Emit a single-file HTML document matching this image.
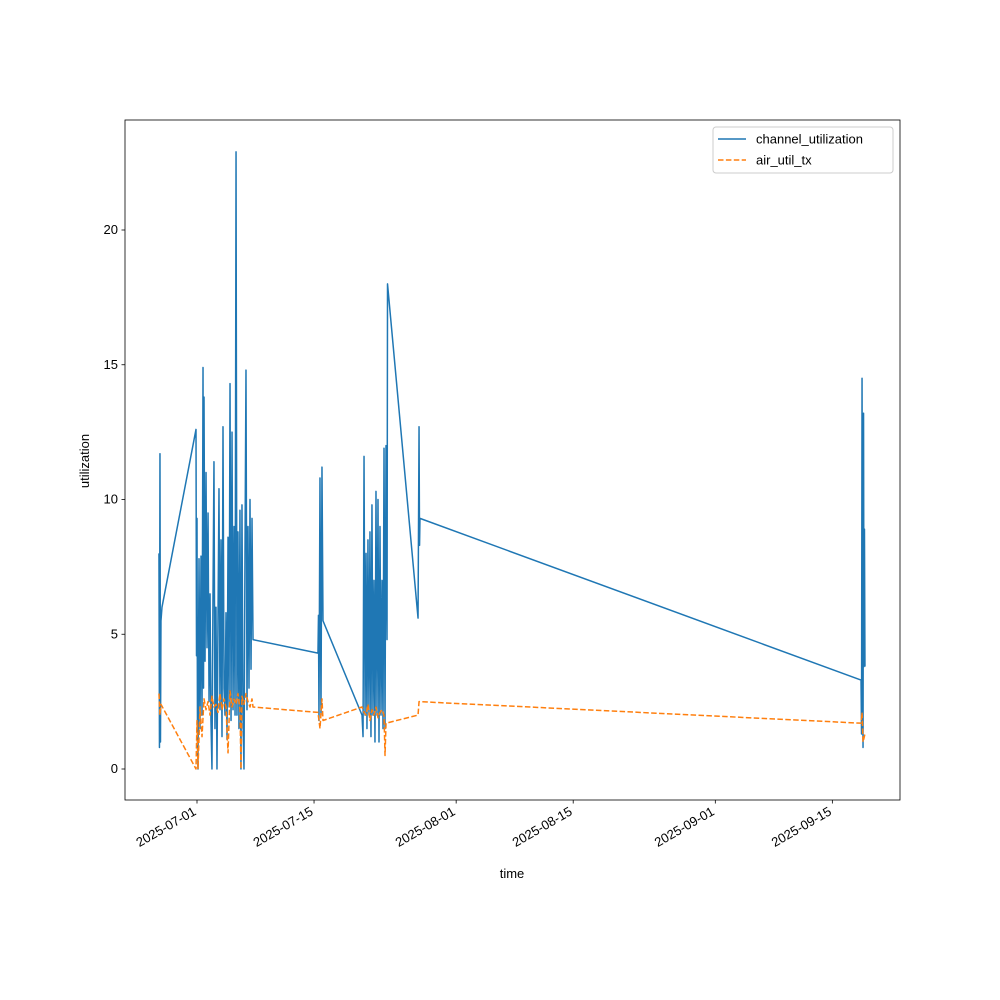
<!DOCTYPE html>
<html><head><meta charset="utf-8"><style>
html,body{margin:0;padding:0;background:#fff;}
svg{display:block;font-family:"Liberation Sans","DejaVu Sans",sans-serif;}
</style></head><body>
<svg id="chart" width="1000" height="1000" viewBox="0 0 1000 1000">
<rect x="0" y="0" width="1000" height="1000" fill="#fff"/>
<g id="plot"></g>
<g id="axes"></g>
</svg>
<script>
const cuDays=[-4.55,-4.49,-4.43,-4.37,-4.31,-4.19,-0.12,-0.06,0,0.06,0.12,0.24,0.36,0.48,0.6,0.72,0.78,0.84,0.96,1.08,1.2,1.32,1.44,1.56,1.67,1.79,1.91,2.03,2.15,2.27,2.39,2.51,2.63,2.75,2.87,2.99,3.11,3.23,3.35,3.47,3.59,3.71,3.83,3.95,4.07,4.19,4.31,4.43,4.55,4.67,4.78,4.9,5.02,5.14,5.26,5.38,5.5,5.62,5.74,5.86,5.98,6.1,6.22,6.34,6.46,6.58,6.7,14.47,14.53,14.59,14.71,14.83,14.95,15.07,19.74,19.86,19.98,20.1,20.22,20.33,20.45,20.57,20.69,20.81,20.93,21.05,21.17,21.29,21.41,21.53,21.65,21.77,21.89,22.01,22.13,22.25,22.37,22.49,22.61,22.73,22.79,26.44,26.56,26.62,26.67,79.43,79.49,79.55,79.61,79.67,79.73,79.78,79.84,79.9];
const cuVals=[8,0.8,11.7,1,5.5,6,12.6,4.2,9.3,1.0,0,7.8,1.5,7.9,2.0,14.9,3,13.8,4,11,4.5,9.5,2.5,6.5,1.8,0,6.3,11.4,1.5,6,0,5.5,10.4,2.2,8.5,1.2,12.7,3,2,5.8,1.1,8.6,2.3,14.3,1.8,12.5,2.2,9,2,22.9,2,8.8,1.5,9.6,0,9.8,2,0,8,14.8,2.2,9,3,10,3.7,9.3,4.8,4.3,5.7,1.8,10.8,2,11.2,5.5,2,1.2,11.6,2,8,1.5,8.5,2,8.8,1.2,9.8,2,7,1,10.3,2,10,1,9,2,7,1.5,11.9,1.5,12,4.8,18,5.6,12.7,8.3,9.3,3.3,1.3,14.5,5.8,0.8,13.2,3.8,8.9,3.8];
const atDays=[-4.55,-4.43,-4.31,-0.12,0,0.12,0.36,0.6,0.84,1.08,1.32,1.56,1.79,2.03,2.27,2.51,2.75,2.99,3.23,3.47,3.71,3.95,4.19,4.43,4.67,4.9,5.14,5.26,5.38,5.62,5.86,6.1,6.34,6.58,6.7,14.47,14.71,14.95,15.07,19.74,19.98,20.22,20.45,20.69,20.93,21.17,21.41,21.65,21.89,22.13,22.37,22.49,22.61,26.44,26.56,79.43,79.55,79.67,79.9];
const atVals=[2.8,2.0,2.4,0,1.8,0,2.3,1.2,2.6,2.2,2.5,2.0,2.7,2.3,2.4,2.1,2.8,2.2,2.6,2.3,0.6,2.9,2.3,2.6,2.4,2.8,2.2,0,2.7,2.4,2.8,2.5,2.3,2.6,2.3,2.1,1.5,2.6,1.8,2.3,2.1,2.0,2.4,1.8,2.2,2.0,2.3,1.9,2.1,2.2,2.0,0.5,1.7,2.0,2.5,1.7,2.1,1.0,1.3];
const yTicks=[0,5,10,15,20];
const xTickDays=[0,14,31,45,62,76];
const xTickLabels=["2025-07-01","2025-07-15","2025-08-01","2025-08-15","2025-09-01","2025-09-15"];
const NS="http://www.w3.org/2000/svg";
const L=125,R=900,T=120,B=800;
const xs=d=>197+d*8.36;
const ys=v=>769-v*26.95;
function mk(tag,attrs,parent){const e=document.createElementNS(NS,tag);for(const k in attrs)e.setAttribute(k,attrs[k]);parent.appendChild(e);return e;}
const plot=document.getElementById('plot'),axes=document.getElementById('axes');
function series(days,vals,color,dash,name){
  const d=days.map((t,i)=>(i?'L':'M')+xs(t).toFixed(2)+','+ys(vals[i]).toFixed(2)).join('');
  const p=mk('path',{d:d,fill:'none',stroke:color,'stroke-width':1.5,'stroke-linejoin':'round'},plot);
  if(dash)p.setAttribute('stroke-dasharray',dash);
  
  
}
series(cuDays,cuVals,'#1f77b4',null,'channel-utilization-line');
series(atDays,atVals,'#ff7f0e','5.5,2.4','air-util-tx-line');
const fr=mk('rect',{x:L,y:T,width:R-L,height:B-T,fill:'none',stroke:'#000','stroke-width':0.8},axes);


yTicks.forEach(v=>{
  const y=ys(v);
  const tk=mk('line',{x1:L,x2:L-3.5,y1:y,y2:y,stroke:'#000','stroke-width':0.8},axes);
  
  
  const t=mk('text',{x:L-7,y:y+4,'text-anchor':'end','font-size':13},axes);
  t.textContent=v;
  
  
});
xTickDays.forEach((d,i)=>{
  const x=xs(d);
  const tk=mk('line',{x1:x,x2:x,y1:B,y2:B+3.5,stroke:'#000','stroke-width':0.8},axes);
  
  
  const t=mk('text',{x:x,y:B+14,'text-anchor':'end','font-size':13,transform:`rotate(-30 ${x} ${B+14})`},axes);
  t.textContent=xTickLabels[i];
  
  
});
const xt=mk('text',{x:512,y:878,'text-anchor':'middle','font-size':13},axes);
xt.textContent='time';


const yt=mk('text',{x:89,y:461,'text-anchor':'middle','font-size':13,transform:'rotate(-90 89 461)'},axes);
yt.textContent='utilization';


const lg=mk('g',{},axes);


mk('rect',{x:713,y:127,width:180,height:46,rx:3,fill:'#fff',stroke:'#ccc','stroke-width':1},lg);
const entries=[['channel_utilization','#1f77b4',null],['air_util_tx','#ff7f0e','5.5,2.4']];
entries.forEach((e,i)=>{
  const y=139+i*21;
  const g=mk('g',{},lg);
  
  
  const ln=mk('line',{x1:718,x2:746,y1:y,y2:y,stroke:e[1],'stroke-width':1.5},g);
  if(e[2])ln.setAttribute('stroke-dasharray',e[2]);
  const t=mk('text',{x:756,y:y+4.5,'font-size':13},g);
  t.textContent=e[0];
});
</script>
</body></html>
